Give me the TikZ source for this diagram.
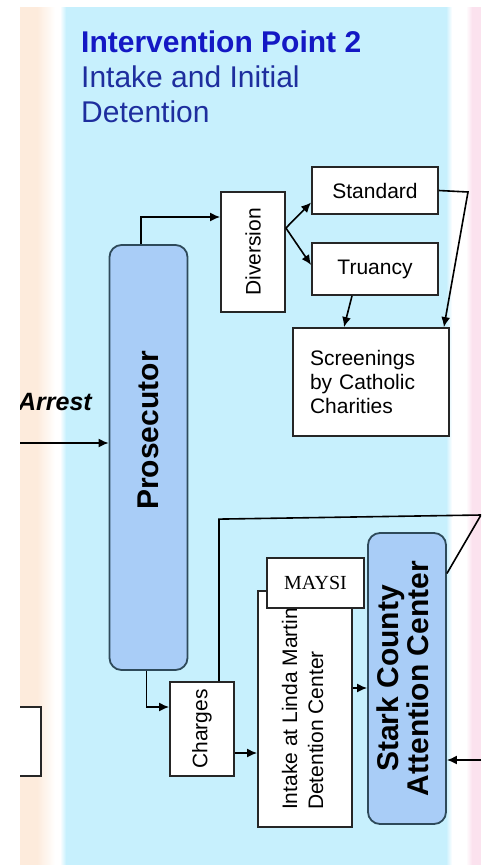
\documentclass[tikz,border=0pt]{standalone}
\usepackage{fontspec}
\setmainfont{Liberation Sans}
\newfontfamily\maysifont{Liberation Serif}
\usepackage{graphicx}
\definecolor{bluebg}{HTML}{C7F0FD}
\definecolor{peachbg}{HTML}{FDEBDC}
\definecolor{pinkbg}{HTML}{FBE2EE}
\definecolor{procfill}{HTML}{A9CDF7}
\definecolor{procline}{HTML}{2E4A5A}
\definecolor{titleblue}{HTML}{1418C4}
\definecolor{subblue}{HTML}{1E2E9E}
\usepackage{tikz}
\usetikzlibrary{positioning, calc, arrows.meta}
\newcommand{\vlabel}[1]{\rotatebox{90}{#1}}

\begin{document}
\begin{tikzpicture}[x=1pt, y=-1pt,
  box/.style={draw=black!85, fill=white, line width=1.8pt, inner sep=0pt},
  agency/.style={draw=procline, fill=procfill, line width=1.8pt, rounded corners=12pt, inner sep=0pt, font=\bfseries\fontsize{30}{30}\selectfont},
  boxtext/.style={font=\fontsize{21}{24}\selectfont},
  arr/.style={line width=1.6pt, -{Latex[length=10pt,width=9pt]}},
  link/.style={line width=1.6pt}]
  \useasboundingbox (0,0) rectangle (485,865);
  \fill[peachbg] (20,7) rectangle (37,865);
  \shade[left color=peachbg, right color=white] (37,7) rectangle (55,865);
  \shade[left color=white, right color=bluebg] (60,7) rectangle (66,865);
  \fill[bluebg] (66,7) rectangle (446,865);
  \shade[left color=bluebg, right color=white] (446,7) rectangle (452,865);
  \shade[left color=white, right color=pinkbg] (466,7) rectangle (472,865);
  \fill[pinkbg] (472,7) rectangle (481,865);

  \begin{scope}
  \clip (20,7) rectangle (481,865);
  \node[anchor=north west, inner sep=0pt, align=left, text=subblue, font=\fontsize{30}{35}\selectfont] (title) at (81,31)
    {\textcolor{titleblue}{\textbf{Intervention Point 2}}\\Intake and Initial\\Detention};
  \node[anchor=base east, inner sep=0pt, font=\bfseries\itshape\fontsize{25}{30}\selectfont] (arrest) at (92,410) {Arrest};

  \node[agency, minimum width=78pt, minimum height=425pt] (pros) at (148.5,457.5) {\vlabel{\hspace{54pt}Prosecutor}};
  \node[box, boxtext, minimum width=64pt, minimum height=120pt] (div) at (253,252) {\vlabel{Diversion}};
  \node[box, boxtext, minimum width=126pt, minimum height=47pt] (std) at (375,190.5) {Standard};
  \node[box, boxtext, minimum width=126pt, minimum height=52pt] (tru) at (375,269) {Truancy};
  \node[box, boxtext, minimum width=156pt, minimum height=108pt, text width=122pt, inner xsep=17pt, align=left] (scr) at (371,382)
    {Screenings\\by Catholic\\Charities};
  \node[box, boxtext, minimum width=64pt, minimum height=94pt] (chg) at (202,729) {\vlabel{Charges}};
  \node[box, font=\fontsize{21}{26}\selectfont, minimum width=94pt, minimum height=236pt] (itk) at (305,709)
    {\vlabel{\begin{tabular}{@{}l@{}}Intake at Linda Martin\\Detention Center\end{tabular}}};
  \node[box, font=\maysifont\fontsize{20}{24}\selectfont, minimum width=97pt, minimum height=50pt] (maysi) at (315.5,583) {MAYSI};
  \node[agency, minimum width=78pt, minimum height=291pt] (stark) at (407,678.5)
    {\vlabel{\begin{tabular}{@{}c@{}}Stark County\\Attention Center\end{tabular}}};
  \node[box, minimum width=62pt, minimum height=69pt] (prev) at (10,741.5) {};

  \coordinate (arrin) at (20,443);
  \coordinate (stdout) at (468,192);
  \coordinate (upturn) at (481,515);
  \coordinate (rin) at (481,760);
  \draw[arr] (arrin) -- (arrin -| pros.west);
  \draw[arr] ([xshift=-7.5pt]pros.north) |- ([yshift=35pt]div.west);
  \draw[arr] ([yshift=24pt]div.east) -- ([yshift=-12pt]std.west);
  \draw[arr] ([yshift=24pt]div.east) -- ([yshift=4pt]tru.west);
  \draw[arr] (std.east) -- (stdout) -- ([xshift=-6pt]scr.north east);
  \draw[arr] ([xshift=-23pt]tru.south) -- ([xshift=-27pt]scr.north);
  \draw[arr] ([xshift=-2pt]pros.south) |- ([yshift=22pt]chg.west);
  \draw[arr] ([yshift=-24pt]chg.east) -- ([yshift=-24pt]chg.east -| itk.west);
  \draw[arr] ([yshift=21pt]itk.east) -- ([yshift=21pt]itk.east -| stark.west);
  \draw[link] ([xshift=17pt]chg.north) -- ++(0,-162) -- (upturn) -- ([yshift=105pt]stark.east);
  \draw[arr] (rin) -- (rin -| stark.east);
  \end{scope}
\end{tikzpicture}
\end{document}
